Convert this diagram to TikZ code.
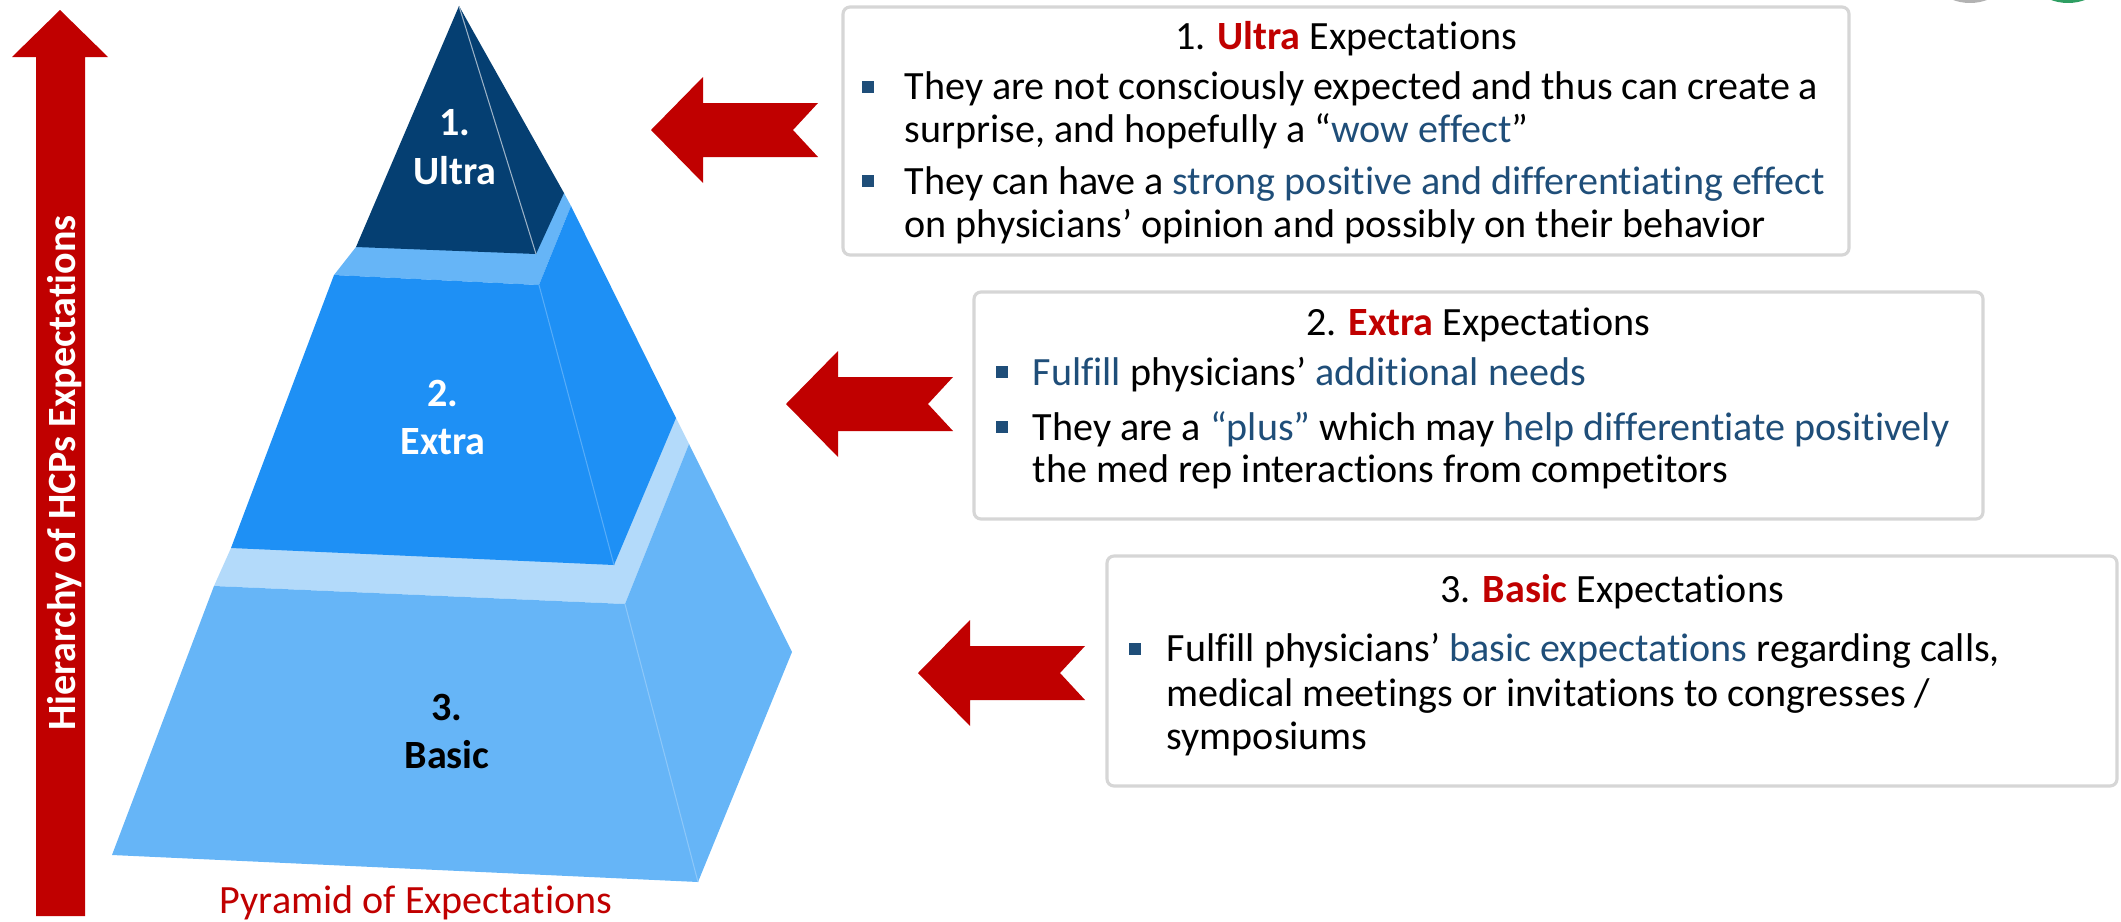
\documentclass[tikz,border=0pt]{standalone}
\usepackage{fontspec}
\setmainfont{Carlito}[Ligatures={TeX,NoCommon}]
\definecolor{arrowred}{HTML}{C00000}
\definecolor{navytop}{HTML}{053F72}
\definecolor{midblue}{HTML}{1E90F5}
\definecolor{lightblue}{HTML}{66B5F7}
\definecolor{paleblue}{HTML}{B3DAFA}
\definecolor{textblue}{HTML}{1F4E79}
\definecolor{framegray}{HTML}{D6D6D6}
\definecolor{logogreen}{HTML}{2E9E62}
\newcommand\bodyfont{\fontsize{11.4}{13}\selectfont}
\tikzset{
  textframe/.style={draw=framegray, line width=0.9pt, rounded corners=2pt},
  line/.style={anchor=base west, inner sep=0pt, font=\bodyfont},
  head/.style={anchor=base, inner sep=0pt, font=\bodyfont},
  tierlabel/.style={anchor=base, inner sep=0pt, font=\bodyfont\bfseries},
  sq/.style={fill=textblue, inner sep=0pt, minimum size=1.2mm},
  redtag/.pic={\fill[arrowred] (0,0) -- (52,-53) -- (52,-27) -- (167,-27) -- (142,0) -- (167,27) -- (52,27) -- (52,53) -- cycle;}
}
\begin{document}
\begin{tikzpicture}[x=0.01cm, y=-0.01cm]
\useasboundingbox (0,0) rectangle (2121,921);
\clip (0,0) rectangle (2121,921);

% logos cut at the top edge
\fill[gray!60] (1970,-46) circle (49);
\fill[logogreen] (2068,-46) circle (49);

% vertical arrow
\fill[arrowred] (60,10) -- (108,57) -- (85,57) -- (85,916) -- (36,916) -- (36,57) -- (12,57) -- cycle;
\node[rotate=90, text=white, font=\bodyfont\bfseries, inner sep=0pt] (hier) at (65,473) {Hierarchy of HCPs Expectations};

% pyramid, bottom tier first
\coordinate (apex) at (459,6);
\fill[paleblue] (231,548) -- (214,586) -- (625,604) -- (689,444) -- (676,418) -- cycle;
\fill[lightblue] (214,586) -- (625,604) -- (698,882) -- (112,855) -- cycle;
\fill[lightblue] (625,604) -- (689,444) -- (792,652) -- (698,882) -- cycle;
\draw[white!25!lightblue, line width=0.3pt] (625,604) -- (698,882);
\fill[lightblue] (356,247) -- (334,275) -- (539,285) -- (571,206) -- (564,193) -- cycle;
\fill[midblue] (334,275) -- (539,285) -- (614,565) -- (231,548) -- cycle;
\fill[midblue] (539,285) -- (571,206) -- (676,418) -- (614,565) -- cycle;
\draw[white!25!midblue, line width=0.3pt] (539,285) -- (614,565);
\fill[navytop] (apex) -- (356,247) -- (536,254) -- cycle;
\fill[navytop] (apex) -- (564,193) -- (536,254) -- cycle;
\draw[white!60!navytop, line width=0.3pt] (apex) -- (536,254);

\node[tierlabel, text=white] (n1) at (455,135) {1.};
\node[tierlabel, text=white] (t1) at (455,184) {Ultra};
\node[tierlabel, text=white] (n2) at (443,406) {2.};
\node[tierlabel, text=white] (t2) at (443,454) {Extra};
\node[tierlabel] (n3) at (447,720) {3.};
\node[tierlabel] (t3) at (447,768) {Basic};
\node[head, text=arrowred] (pyr) at (416,913) {Pyramid of Expectations};

% arrows to the boxes
\pic at (651,130) {redtag};
\pic at (786,404) {redtag};
\pic at (918,673) {redtag};

% box 1
\draw[textframe] (843,7) rectangle (1849,255);
\node[head] (h1) at (1346,49) {1. \textcolor{arrowred}{\textbf{Ultra}} Expectations};
\node[sq] (s1a) at (868,87) {};
\node[line] (l1a) at (904,100) {They are not consciously expected and thus can create a};
\node[line] (l1b) at (904,142) {surprise, and hopefully a “\textcolor{textblue}{wow effect}”};
\node[sq] (s1b) at (868,181) {};
\node[line] (l1c) at (904,194) {They can have a \textcolor{textblue}{strong positive and differentiating effect}};
\node[line] (l1d) at (904,237) {on physicians’ opinion and possibly on their behavior};

% box 2
\draw[textframe] (974,292) rectangle (1983,519);
\node[head] (h2) at (1478,335) {2. \textcolor{arrowred}{\textbf{Extra}} Expectations};
\node[sq] (s2a) at (1002,372) {};
\node[line] (l2a) at (1032,385) {\textcolor{textblue}{Fulfill} physicians’ \textcolor{textblue}{additional needs}};
\node[sq] (s2b) at (1002,427) {};
\node[line] (l2b) at (1032,440) {They are a \textcolor{textblue}{“plus”} which may \textcolor{textblue}{help differentiate positively}};
\node[line] (l2c) at (1032,482) {the med rep interactions from competitors};

% box 3
\draw[textframe] (1107,556) rectangle (2117,786);
\node[head] (h3) at (1612,602) {3. \textcolor{arrowred}{\textbf{Basic}} Expectations};
\node[sq] (s3a) at (1135,649) {};
\node[line] (l3a) at (1166,661) {Fulfill physicians’ \textcolor{textblue}{basic expectations} regarding calls,};
\node[line] (l3b) at (1166,706) {medical meetings or invitations to congresses /};
\node[line] (l3c) at (1166,749) {symposiums};
\end{tikzpicture}
\end{document}
